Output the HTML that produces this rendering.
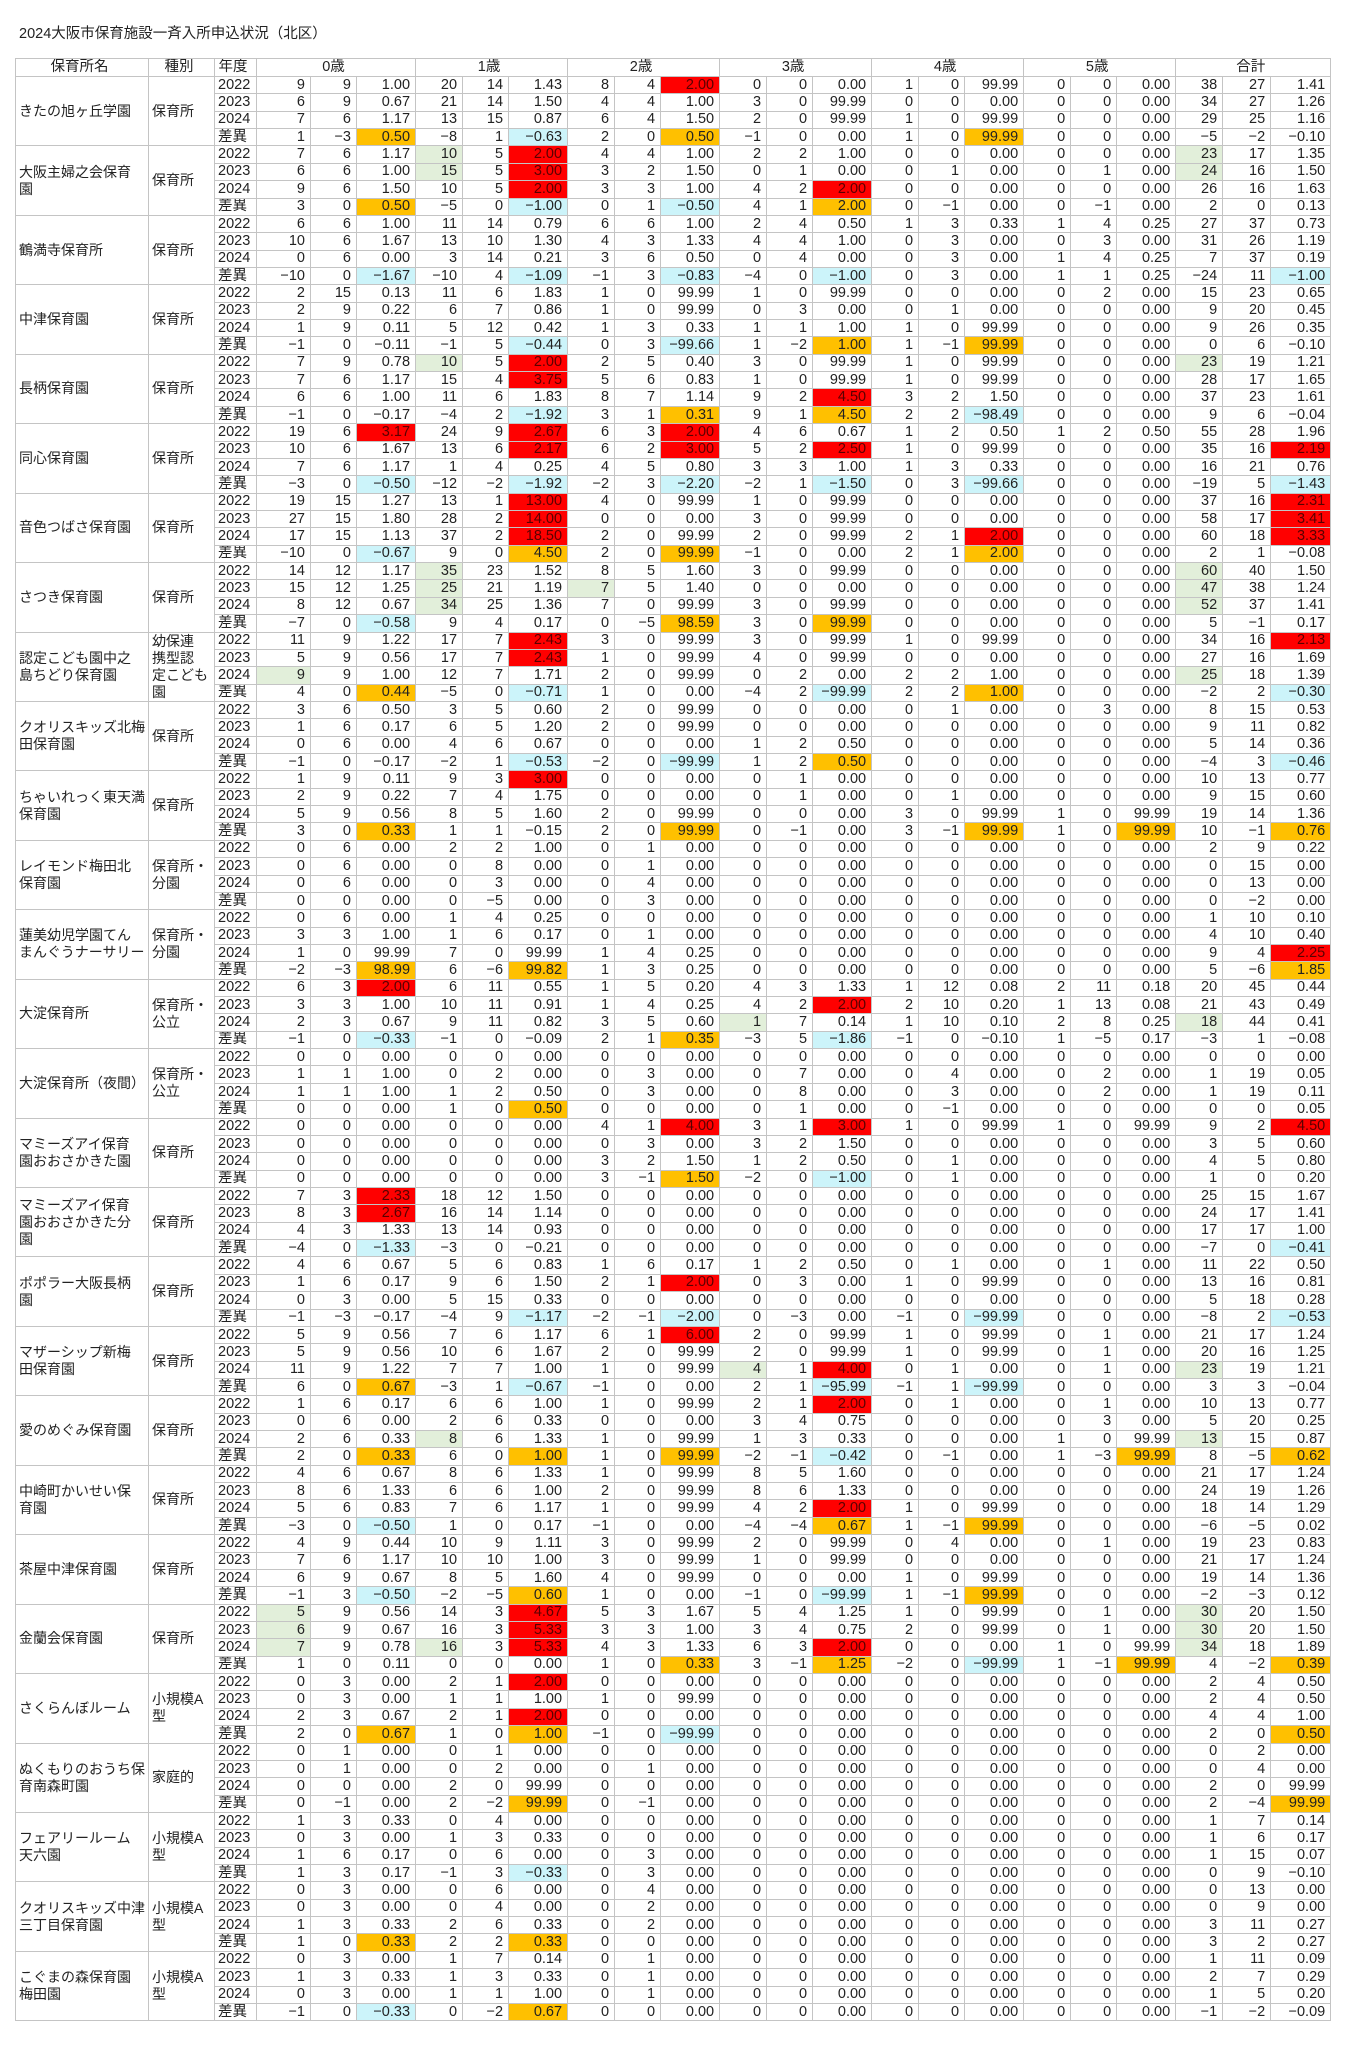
<!DOCTYPE html>
<html><head><meta charset="utf-8">
<style>
body{margin:0;width:1357px;height:2048px;background:#fff;position:relative;overflow:hidden;font-family:"Liberation Sans Narrow","Liberation Sans","Noto Sans CJK JP",sans-serif;color:#222}
.t{position:absolute;left:19px;top:22px;font-size:14.5px;font-family:"Liberation Sans","Noto Sans CJK JP",sans-serif}
table{position:absolute;left:15px;top:58px;border-collapse:collapse;table-layout:fixed;width:1315px;font-size:14.5px}
td{border:1px solid #c4c4c4;height:16.37px;padding:0 5px 0 0;text-align:right;line-height:15px;white-space:nowrap;overflow:hidden}
tr.h td{height:17px;text-align:center;font-family:"Liberation Sans","Noto Sans CJK JP",sans-serif;border-bottom:1px solid #c4c4c4;border-left-color:#c4c4c4}
tr.f td{border-top:1px solid #999}
td.n{text-align:left;padding-left:3px;padding-right:0;font-family:"Liberation Sans","Noto Sans CJK JP",sans-serif;line-height:17px;font-size:14px}
td.k{text-align:left;padding-left:3px;padding-right:0;font-family:"Liberation Sans","Noto Sans CJK JP",sans-serif;line-height:17px;font-size:14px}
td.y{text-align:left;padding-left:3px;font-family:"Liberation Sans Narrow","Liberation Sans","Noto Sans CJK JP",sans-serif}
.r{background:#ff0000;color:#5a0000}.o{background:#ffc000}.b{background:#ccf4fa}.g{background:#e2efda}
table{border:1px solid #888}
</style></head><body>
<div class="t">2024大阪市保育施設一斉入所申込状況（北区）</div>
<table>
<colgroup><col style="width:133px"><col style="width:66px"><col style="width:42px"><col style="width:54px"><col style="width:46px"><col style="width:59px"><col style="width:47px"><col style="width:46px"><col style="width:59px"><col style="width:47px"><col style="width:46px"><col style="width:59px"><col style="width:47px"><col style="width:46px"><col style="width:59px"><col style="width:47px"><col style="width:46px"><col style="width:59px"><col style="width:47px"><col style="width:46px"><col style="width:59px"><col style="width:47px"><col style="width:48px"><col style="width:60px"></colgroup>
<tr class="h"><td>保育所名<td>種別<td>年度<td colspan="3">0歳<td colspan="3">1歳<td colspan="3">2歳<td colspan="3">3歳<td colspan="3">4歳<td colspan="3">5歳<td colspan="3">合計
<tr class="f"><td rowspan="4" class="n">きたの旭ヶ丘学園<td rowspan="4" class="k">保育所<td class="y">2022<td>9<td>9<td>1.00<td>20<td>14<td>1.43<td>8<td>4<td class="r">2.00<td>0<td>0<td>0.00<td>1<td>0<td>99.99<td>0<td>0<td>0.00<td>38<td>27<td>1.41
<tr><td class="y">2023<td>6<td>9<td>0.67<td>21<td>14<td>1.50<td>4<td>4<td>1.00<td>3<td>0<td>99.99<td>0<td>0<td>0.00<td>0<td>0<td>0.00<td>34<td>27<td>1.26
<tr><td class="y">2024<td>7<td>6<td>1.17<td>13<td>15<td>0.87<td>6<td>4<td>1.50<td>2<td>0<td>99.99<td>1<td>0<td>99.99<td>0<td>0<td>0.00<td>29<td>25<td>1.16
<tr><td class="y">差異<td>1<td>−3<td class="o">0.50<td>−8<td>1<td class="b">−0.63<td>2<td>0<td class="o">0.50<td>−1<td>0<td>0.00<td>1<td>0<td class="o">99.99<td>0<td>0<td>0.00<td>−5<td>−2<td>−0.10
<tr class="f"><td rowspan="4" class="n">大阪主婦之会保育<br>園<td rowspan="4" class="k">保育所<td class="y">2022<td>7<td>6<td>1.17<td class="g">10<td>5<td class="r">2.00<td>4<td>4<td>1.00<td>2<td>2<td>1.00<td>0<td>0<td>0.00<td>0<td>0<td>0.00<td class="g">23<td>17<td>1.35
<tr><td class="y">2023<td>6<td>6<td>1.00<td class="g">15<td>5<td class="r">3.00<td>3<td>2<td>1.50<td>0<td>1<td>0.00<td>0<td>1<td>0.00<td>0<td>1<td>0.00<td class="g">24<td>16<td>1.50
<tr><td class="y">2024<td>9<td>6<td>1.50<td>10<td>5<td class="r">2.00<td>3<td>3<td>1.00<td>4<td>2<td class="r">2.00<td>0<td>0<td>0.00<td>0<td>0<td>0.00<td>26<td>16<td>1.63
<tr><td class="y">差異<td>3<td>0<td class="o">0.50<td>−5<td>0<td class="b">−1.00<td>0<td>1<td class="b">−0.50<td>4<td>1<td class="o">2.00<td>0<td>−1<td>0.00<td>0<td>−1<td>0.00<td>2<td>0<td>0.13
<tr class="f"><td rowspan="4" class="n">鶴満寺保育所<td rowspan="4" class="k">保育所<td class="y">2022<td>6<td>6<td>1.00<td>11<td>14<td>0.79<td>6<td>6<td>1.00<td>2<td>4<td>0.50<td>1<td>3<td>0.33<td>1<td>4<td>0.25<td>27<td>37<td>0.73
<tr><td class="y">2023<td>10<td>6<td>1.67<td>13<td>10<td>1.30<td>4<td>3<td>1.33<td>4<td>4<td>1.00<td>0<td>3<td>0.00<td>0<td>3<td>0.00<td>31<td>26<td>1.19
<tr><td class="y">2024<td>0<td>6<td>0.00<td>3<td>14<td>0.21<td>3<td>6<td>0.50<td>0<td>4<td>0.00<td>0<td>3<td>0.00<td>1<td>4<td>0.25<td>7<td>37<td>0.19
<tr><td class="y">差異<td>−10<td>0<td class="b">−1.67<td>−10<td>4<td class="b">−1.09<td>−1<td>3<td class="b">−0.83<td>−4<td>0<td class="b">−1.00<td>0<td>3<td>0.00<td>1<td>1<td>0.25<td>−24<td>11<td class="b">−1.00
<tr class="f"><td rowspan="4" class="n">中津保育園<td rowspan="4" class="k">保育所<td class="y">2022<td>2<td>15<td>0.13<td>11<td>6<td>1.83<td>1<td>0<td>99.99<td>1<td>0<td>99.99<td>0<td>0<td>0.00<td>0<td>2<td>0.00<td>15<td>23<td>0.65
<tr><td class="y">2023<td>2<td>9<td>0.22<td>6<td>7<td>0.86<td>1<td>0<td>99.99<td>0<td>3<td>0.00<td>0<td>1<td>0.00<td>0<td>0<td>0.00<td>9<td>20<td>0.45
<tr><td class="y">2024<td>1<td>9<td>0.11<td>5<td>12<td>0.42<td>1<td>3<td>0.33<td>1<td>1<td>1.00<td>1<td>0<td>99.99<td>0<td>0<td>0.00<td>9<td>26<td>0.35
<tr><td class="y">差異<td>−1<td>0<td>−0.11<td>−1<td>5<td class="b">−0.44<td>0<td>3<td class="b">−99.66<td>1<td>−2<td class="o">1.00<td>1<td>−1<td class="o">99.99<td>0<td>0<td>0.00<td>0<td>6<td>−0.10
<tr class="f"><td rowspan="4" class="n">長柄保育園<td rowspan="4" class="k">保育所<td class="y">2022<td>7<td>9<td>0.78<td class="g">10<td>5<td class="r">2.00<td>2<td>5<td>0.40<td>3<td>0<td>99.99<td>1<td>0<td>99.99<td>0<td>0<td>0.00<td class="g">23<td>19<td>1.21
<tr><td class="y">2023<td>7<td>6<td>1.17<td>15<td>4<td class="r">3.75<td>5<td>6<td>0.83<td>1<td>0<td>99.99<td>1<td>0<td>99.99<td>0<td>0<td>0.00<td>28<td>17<td>1.65
<tr><td class="y">2024<td>6<td>6<td>1.00<td>11<td>6<td>1.83<td>8<td>7<td>1.14<td>9<td>2<td class="r">4.50<td>3<td>2<td>1.50<td>0<td>0<td>0.00<td>37<td>23<td>1.61
<tr><td class="y">差異<td>−1<td>0<td>−0.17<td>−4<td>2<td class="b">−1.92<td>3<td>1<td class="o">0.31<td>9<td>1<td class="o">4.50<td>2<td>2<td class="b">−98.49<td>0<td>0<td>0.00<td>9<td>6<td>−0.04
<tr class="f"><td rowspan="4" class="n">同心保育園<td rowspan="4" class="k">保育所<td class="y">2022<td>19<td>6<td class="r">3.17<td>24<td>9<td class="r">2.67<td>6<td>3<td class="r">2.00<td>4<td>6<td>0.67<td>1<td>2<td>0.50<td>1<td>2<td>0.50<td>55<td>28<td>1.96
<tr><td class="y">2023<td>10<td>6<td>1.67<td>13<td>6<td class="r">2.17<td>6<td>2<td class="r">3.00<td>5<td>2<td class="r">2.50<td>1<td>0<td>99.99<td>0<td>0<td>0.00<td>35<td>16<td class="r">2.19
<tr><td class="y">2024<td>7<td>6<td>1.17<td>1<td>4<td>0.25<td>4<td>5<td>0.80<td>3<td>3<td>1.00<td>1<td>3<td>0.33<td>0<td>0<td>0.00<td>16<td>21<td>0.76
<tr><td class="y">差異<td>−3<td>0<td class="b">−0.50<td>−12<td>−2<td class="b">−1.92<td>−2<td>3<td class="b">−2.20<td>−2<td>1<td class="b">−1.50<td>0<td>3<td class="b">−99.66<td>0<td>0<td>0.00<td>−19<td>5<td class="b">−1.43
<tr class="f"><td rowspan="4" class="n">音色つばさ保育園<td rowspan="4" class="k">保育所<td class="y">2022<td>19<td>15<td>1.27<td>13<td>1<td class="r">13.00<td>4<td>0<td>99.99<td>1<td>0<td>99.99<td>0<td>0<td>0.00<td>0<td>0<td>0.00<td>37<td>16<td class="r">2.31
<tr><td class="y">2023<td>27<td>15<td>1.80<td>28<td>2<td class="r">14.00<td>0<td>0<td>0.00<td>3<td>0<td>99.99<td>0<td>0<td>0.00<td>0<td>0<td>0.00<td>58<td>17<td class="r">3.41
<tr><td class="y">2024<td>17<td>15<td>1.13<td>37<td>2<td class="r">18.50<td>2<td>0<td>99.99<td>2<td>0<td>99.99<td>2<td>1<td class="r">2.00<td>0<td>0<td>0.00<td>60<td>18<td class="r">3.33
<tr><td class="y">差異<td>−10<td>0<td class="b">−0.67<td>9<td>0<td class="o">4.50<td>2<td>0<td class="o">99.99<td>−1<td>0<td>0.00<td>2<td>1<td class="o">2.00<td>0<td>0<td>0.00<td>2<td>1<td>−0.08
<tr class="f"><td rowspan="4" class="n">さつき保育園<td rowspan="4" class="k">保育所<td class="y">2022<td>14<td>12<td>1.17<td class="g">35<td>23<td>1.52<td>8<td>5<td>1.60<td>3<td>0<td>99.99<td>0<td>0<td>0.00<td>0<td>0<td>0.00<td class="g">60<td>40<td>1.50
<tr><td class="y">2023<td>15<td>12<td>1.25<td class="g">25<td>21<td>1.19<td class="g">7<td>5<td>1.40<td>0<td>0<td>0.00<td>0<td>0<td>0.00<td>0<td>0<td>0.00<td class="g">47<td>38<td>1.24
<tr><td class="y">2024<td>8<td>12<td>0.67<td class="g">34<td>25<td>1.36<td>7<td>0<td>99.99<td>3<td>0<td>99.99<td>0<td>0<td>0.00<td>0<td>0<td>0.00<td class="g">52<td>37<td>1.41
<tr><td class="y">差異<td>−7<td>0<td class="b">−0.58<td>9<td>4<td>0.17<td>0<td>−5<td class="o">98.59<td>3<td>0<td class="o">99.99<td>0<td>0<td>0.00<td>0<td>0<td>0.00<td>5<td>−1<td>0.17
<tr class="f"><td rowspan="4" class="n">認定こども園中之<br>島ちどり保育園<td rowspan="4" class="k">幼保連<br>携型認<br>定こども<br>園<td class="y">2022<td>11<td>9<td>1.22<td>17<td>7<td class="r">2.43<td>3<td>0<td>99.99<td>3<td>0<td>99.99<td>1<td>0<td>99.99<td>0<td>0<td>0.00<td>34<td>16<td class="r">2.13
<tr><td class="y">2023<td>5<td>9<td>0.56<td>17<td>7<td class="r">2.43<td>1<td>0<td>99.99<td>4<td>0<td>99.99<td>0<td>0<td>0.00<td>0<td>0<td>0.00<td>27<td>16<td>1.69
<tr><td class="y">2024<td class="g">9<td>9<td>1.00<td>12<td>7<td>1.71<td>2<td>0<td>99.99<td>0<td>2<td>0.00<td>2<td>2<td>1.00<td>0<td>0<td>0.00<td class="g">25<td>18<td>1.39
<tr><td class="y">差異<td>4<td>0<td class="o">0.44<td>−5<td>0<td class="b">−0.71<td>1<td>0<td>0.00<td>−4<td>2<td class="b">−99.99<td>2<td>2<td class="o">1.00<td>0<td>0<td>0.00<td>−2<td>2<td class="b">−0.30
<tr class="f"><td rowspan="4" class="n">クオリスキッズ北梅<br>田保育園<td rowspan="4" class="k">保育所<td class="y">2022<td>3<td>6<td>0.50<td>3<td>5<td>0.60<td>2<td>0<td>99.99<td>0<td>0<td>0.00<td>0<td>1<td>0.00<td>0<td>3<td>0.00<td>8<td>15<td>0.53
<tr><td class="y">2023<td>1<td>6<td>0.17<td>6<td>5<td>1.20<td>2<td>0<td>99.99<td>0<td>0<td>0.00<td>0<td>0<td>0.00<td>0<td>0<td>0.00<td>9<td>11<td>0.82
<tr><td class="y">2024<td>0<td>6<td>0.00<td>4<td>6<td>0.67<td>0<td>0<td>0.00<td>1<td>2<td>0.50<td>0<td>0<td>0.00<td>0<td>0<td>0.00<td>5<td>14<td>0.36
<tr><td class="y">差異<td>−1<td>0<td>−0.17<td>−2<td>1<td class="b">−0.53<td>−2<td>0<td class="b">−99.99<td>1<td>2<td class="o">0.50<td>0<td>0<td>0.00<td>0<td>0<td>0.00<td>−4<td>3<td class="b">−0.46
<tr class="f"><td rowspan="4" class="n">ちゃいれっく東天満<br>保育園<td rowspan="4" class="k">保育所<td class="y">2022<td>1<td>9<td>0.11<td>9<td>3<td class="r">3.00<td>0<td>0<td>0.00<td>0<td>1<td>0.00<td>0<td>0<td>0.00<td>0<td>0<td>0.00<td>10<td>13<td>0.77
<tr><td class="y">2023<td>2<td>9<td>0.22<td>7<td>4<td>1.75<td>0<td>0<td>0.00<td>0<td>1<td>0.00<td>0<td>1<td>0.00<td>0<td>0<td>0.00<td>9<td>15<td>0.60
<tr><td class="y">2024<td>5<td>9<td>0.56<td>8<td>5<td>1.60<td>2<td>0<td>99.99<td>0<td>0<td>0.00<td>3<td>0<td>99.99<td>1<td>0<td>99.99<td>19<td>14<td>1.36
<tr><td class="y">差異<td>3<td>0<td class="o">0.33<td>1<td>1<td>−0.15<td>2<td>0<td class="o">99.99<td>0<td>−1<td>0.00<td>3<td>−1<td class="o">99.99<td>1<td>0<td class="o">99.99<td>10<td>−1<td class="o">0.76
<tr class="f"><td rowspan="4" class="n">レイモンド梅田北<br>保育園<td rowspan="4" class="k">保育所・<br>分園<td class="y">2022<td>0<td>6<td>0.00<td>2<td>2<td>1.00<td>0<td>1<td>0.00<td>0<td>0<td>0.00<td>0<td>0<td>0.00<td>0<td>0<td>0.00<td>2<td>9<td>0.22
<tr><td class="y">2023<td>0<td>6<td>0.00<td>0<td>8<td>0.00<td>0<td>1<td>0.00<td>0<td>0<td>0.00<td>0<td>0<td>0.00<td>0<td>0<td>0.00<td>0<td>15<td>0.00
<tr><td class="y">2024<td>0<td>6<td>0.00<td>0<td>3<td>0.00<td>0<td>4<td>0.00<td>0<td>0<td>0.00<td>0<td>0<td>0.00<td>0<td>0<td>0.00<td>0<td>13<td>0.00
<tr><td class="y">差異<td>0<td>0<td>0.00<td>0<td>−5<td>0.00<td>0<td>3<td>0.00<td>0<td>0<td>0.00<td>0<td>0<td>0.00<td>0<td>0<td>0.00<td>0<td>−2<td>0.00
<tr class="f"><td rowspan="4" class="n">蓮美幼児学園てん<br>まんぐうナーサリー<td rowspan="4" class="k">保育所・<br>分園<td class="y">2022<td>0<td>6<td>0.00<td>1<td>4<td>0.25<td>0<td>0<td>0.00<td>0<td>0<td>0.00<td>0<td>0<td>0.00<td>0<td>0<td>0.00<td>1<td>10<td>0.10
<tr><td class="y">2023<td>3<td>3<td>1.00<td>1<td>6<td>0.17<td>0<td>1<td>0.00<td>0<td>0<td>0.00<td>0<td>0<td>0.00<td>0<td>0<td>0.00<td>4<td>10<td>0.40
<tr><td class="y">2024<td>1<td>0<td>99.99<td>7<td>0<td>99.99<td>1<td>4<td>0.25<td>0<td>0<td>0.00<td>0<td>0<td>0.00<td>0<td>0<td>0.00<td>9<td>4<td class="r">2.25
<tr><td class="y">差異<td>−2<td>−3<td class="o">98.99<td>6<td>−6<td class="o">99.82<td>1<td>3<td>0.25<td>0<td>0<td>0.00<td>0<td>0<td>0.00<td>0<td>0<td>0.00<td>5<td>−6<td class="o">1.85
<tr class="f"><td rowspan="4" class="n">大淀保育所<td rowspan="4" class="k">保育所・<br>公立<td class="y">2022<td>6<td>3<td class="r">2.00<td>6<td>11<td>0.55<td>1<td>5<td>0.20<td>4<td>3<td>1.33<td>1<td>12<td>0.08<td>2<td>11<td>0.18<td>20<td>45<td>0.44
<tr><td class="y">2023<td>3<td>3<td>1.00<td>10<td>11<td>0.91<td>1<td>4<td>0.25<td>4<td>2<td class="r">2.00<td>2<td>10<td>0.20<td>1<td>13<td>0.08<td>21<td>43<td>0.49
<tr><td class="y">2024<td>2<td>3<td>0.67<td>9<td>11<td>0.82<td>3<td>5<td>0.60<td class="g">1<td>7<td>0.14<td>1<td>10<td>0.10<td>2<td>8<td>0.25<td class="g">18<td>44<td>0.41
<tr><td class="y">差異<td>−1<td>0<td class="b">−0.33<td>−1<td>0<td>−0.09<td>2<td>1<td class="o">0.35<td>−3<td>5<td class="b">−1.86<td>−1<td>0<td>−0.10<td>1<td>−5<td>0.17<td>−3<td>1<td>−0.08
<tr class="f"><td rowspan="4" class="n">大淀保育所（夜間）<td rowspan="4" class="k">保育所・<br>公立<td class="y">2022<td>0<td>0<td>0.00<td>0<td>0<td>0.00<td>0<td>0<td>0.00<td>0<td>0<td>0.00<td>0<td>0<td>0.00<td>0<td>0<td>0.00<td>0<td>0<td>0.00
<tr><td class="y">2023<td>1<td>1<td>1.00<td>0<td>2<td>0.00<td>0<td>3<td>0.00<td>0<td>7<td>0.00<td>0<td>4<td>0.00<td>0<td>2<td>0.00<td>1<td>19<td>0.05
<tr><td class="y">2024<td>1<td>1<td>1.00<td>1<td>2<td>0.50<td>0<td>3<td>0.00<td>0<td>8<td>0.00<td>0<td>3<td>0.00<td>0<td>2<td>0.00<td>1<td>19<td>0.11
<tr><td class="y">差異<td>0<td>0<td>0.00<td>1<td>0<td class="o">0.50<td>0<td>0<td>0.00<td>0<td>1<td>0.00<td>0<td>−1<td>0.00<td>0<td>0<td>0.00<td>0<td>0<td>0.05
<tr class="f"><td rowspan="4" class="n">マミーズアイ保育<br>園おおさかきた園<td rowspan="4" class="k">保育所<td class="y">2022<td>0<td>0<td>0.00<td>0<td>0<td>0.00<td>4<td>1<td class="r">4.00<td>3<td>1<td class="r">3.00<td>1<td>0<td>99.99<td>1<td>0<td>99.99<td>9<td>2<td class="r">4.50
<tr><td class="y">2023<td>0<td>0<td>0.00<td>0<td>0<td>0.00<td>0<td>3<td>0.00<td>3<td>2<td>1.50<td>0<td>0<td>0.00<td>0<td>0<td>0.00<td>3<td>5<td>0.60
<tr><td class="y">2024<td>0<td>0<td>0.00<td>0<td>0<td>0.00<td>3<td>2<td>1.50<td>1<td>2<td>0.50<td>0<td>1<td>0.00<td>0<td>0<td>0.00<td>4<td>5<td>0.80
<tr><td class="y">差異<td>0<td>0<td>0.00<td>0<td>0<td>0.00<td>3<td>−1<td class="o">1.50<td>−2<td>0<td class="b">−1.00<td>0<td>1<td>0.00<td>0<td>0<td>0.00<td>1<td>0<td>0.20
<tr class="f"><td rowspan="4" class="n">マミーズアイ保育<br>園おおさかきた分<br>園<td rowspan="4" class="k">保育所<td class="y">2022<td>7<td>3<td class="r">2.33<td>18<td>12<td>1.50<td>0<td>0<td>0.00<td>0<td>0<td>0.00<td>0<td>0<td>0.00<td>0<td>0<td>0.00<td>25<td>15<td>1.67
<tr><td class="y">2023<td>8<td>3<td class="r">2.67<td>16<td>14<td>1.14<td>0<td>0<td>0.00<td>0<td>0<td>0.00<td>0<td>0<td>0.00<td>0<td>0<td>0.00<td>24<td>17<td>1.41
<tr><td class="y">2024<td>4<td>3<td>1.33<td>13<td>14<td>0.93<td>0<td>0<td>0.00<td>0<td>0<td>0.00<td>0<td>0<td>0.00<td>0<td>0<td>0.00<td>17<td>17<td>1.00
<tr><td class="y">差異<td>−4<td>0<td class="b">−1.33<td>−3<td>0<td>−0.21<td>0<td>0<td>0.00<td>0<td>0<td>0.00<td>0<td>0<td>0.00<td>0<td>0<td>0.00<td>−7<td>0<td class="b">−0.41
<tr class="f"><td rowspan="4" class="n">ポポラー大阪長柄<br>園<td rowspan="4" class="k">保育所<td class="y">2022<td>4<td>6<td>0.67<td>5<td>6<td>0.83<td>1<td>6<td>0.17<td>1<td>2<td>0.50<td>0<td>1<td>0.00<td>0<td>1<td>0.00<td>11<td>22<td>0.50
<tr><td class="y">2023<td>1<td>6<td>0.17<td>9<td>6<td>1.50<td>2<td>1<td class="r">2.00<td>0<td>3<td>0.00<td>1<td>0<td>99.99<td>0<td>0<td>0.00<td>13<td>16<td>0.81
<tr><td class="y">2024<td>0<td>3<td>0.00<td>5<td>15<td>0.33<td>0<td>0<td>0.00<td>0<td>0<td>0.00<td>0<td>0<td>0.00<td>0<td>0<td>0.00<td>5<td>18<td>0.28
<tr><td class="y">差異<td>−1<td>−3<td>−0.17<td>−4<td>9<td class="b">−1.17<td>−2<td>−1<td class="b">−2.00<td>0<td>−3<td>0.00<td>−1<td>0<td class="b">−99.99<td>0<td>0<td>0.00<td>−8<td>2<td class="b">−0.53
<tr class="f"><td rowspan="4" class="n">マザーシップ新梅<br>田保育園<td rowspan="4" class="k">保育所<td class="y">2022<td>5<td>9<td>0.56<td>7<td>6<td>1.17<td>6<td>1<td class="r">6.00<td>2<td>0<td>99.99<td>1<td>0<td>99.99<td>0<td>1<td>0.00<td>21<td>17<td>1.24
<tr><td class="y">2023<td>5<td>9<td>0.56<td>10<td>6<td>1.67<td>2<td>0<td>99.99<td>2<td>0<td>99.99<td>1<td>0<td>99.99<td>0<td>1<td>0.00<td>20<td>16<td>1.25
<tr><td class="y">2024<td>11<td>9<td>1.22<td>7<td>7<td>1.00<td>1<td>0<td>99.99<td class="g">4<td>1<td class="r">4.00<td>0<td>1<td>0.00<td>0<td>1<td>0.00<td class="g">23<td>19<td>1.21
<tr><td class="y">差異<td>6<td>0<td class="o">0.67<td>−3<td>1<td class="b">−0.67<td>−1<td>0<td>0.00<td>2<td>1<td class="b">−95.99<td>−1<td>1<td class="b">−99.99<td>0<td>0<td>0.00<td>3<td>3<td>−0.04
<tr class="f"><td rowspan="4" class="n">愛のめぐみ保育園<td rowspan="4" class="k">保育所<td class="y">2022<td>1<td>6<td>0.17<td>6<td>6<td>1.00<td>1<td>0<td>99.99<td>2<td>1<td class="r">2.00<td>0<td>1<td>0.00<td>0<td>1<td>0.00<td>10<td>13<td>0.77
<tr><td class="y">2023<td>0<td>6<td>0.00<td>2<td>6<td>0.33<td>0<td>0<td>0.00<td>3<td>4<td>0.75<td>0<td>0<td>0.00<td>0<td>3<td>0.00<td>5<td>20<td>0.25
<tr><td class="y">2024<td>2<td>6<td>0.33<td class="g">8<td>6<td>1.33<td>1<td>0<td>99.99<td>1<td>3<td>0.33<td>0<td>0<td>0.00<td>1<td>0<td>99.99<td class="g">13<td>15<td>0.87
<tr><td class="y">差異<td>2<td>0<td class="o">0.33<td>6<td>0<td class="o">1.00<td>1<td>0<td class="o">99.99<td>−2<td>−1<td class="b">−0.42<td>0<td>−1<td>0.00<td>1<td>−3<td class="o">99.99<td>8<td>−5<td class="o">0.62
<tr class="f"><td rowspan="4" class="n">中崎町かいせい保<br>育園<td rowspan="4" class="k">保育所<td class="y">2022<td>4<td>6<td>0.67<td>8<td>6<td>1.33<td>1<td>0<td>99.99<td>8<td>5<td>1.60<td>0<td>0<td>0.00<td>0<td>0<td>0.00<td>21<td>17<td>1.24
<tr><td class="y">2023<td>8<td>6<td>1.33<td>6<td>6<td>1.00<td>2<td>0<td>99.99<td>8<td>6<td>1.33<td>0<td>0<td>0.00<td>0<td>0<td>0.00<td>24<td>19<td>1.26
<tr><td class="y">2024<td>5<td>6<td>0.83<td>7<td>6<td>1.17<td>1<td>0<td>99.99<td>4<td>2<td class="r">2.00<td>1<td>0<td>99.99<td>0<td>0<td>0.00<td>18<td>14<td>1.29
<tr><td class="y">差異<td>−3<td>0<td class="b">−0.50<td>1<td>0<td>0.17<td>−1<td>0<td>0.00<td>−4<td>−4<td class="o">0.67<td>1<td>−1<td class="o">99.99<td>0<td>0<td>0.00<td>−6<td>−5<td>0.02
<tr class="f"><td rowspan="4" class="n">茶屋中津保育園<td rowspan="4" class="k">保育所<td class="y">2022<td>4<td>9<td>0.44<td>10<td>9<td>1.11<td>3<td>0<td>99.99<td>2<td>0<td>99.99<td>0<td>4<td>0.00<td>0<td>1<td>0.00<td>19<td>23<td>0.83
<tr><td class="y">2023<td>7<td>6<td>1.17<td>10<td>10<td>1.00<td>3<td>0<td>99.99<td>1<td>0<td>99.99<td>0<td>0<td>0.00<td>0<td>0<td>0.00<td>21<td>17<td>1.24
<tr><td class="y">2024<td>6<td>9<td>0.67<td>8<td>5<td>1.60<td>4<td>0<td>99.99<td>0<td>0<td>0.00<td>1<td>0<td>99.99<td>0<td>0<td>0.00<td>19<td>14<td>1.36
<tr><td class="y">差異<td>−1<td>3<td class="b">−0.50<td>−2<td>−5<td class="o">0.60<td>1<td>0<td>0.00<td>−1<td>0<td class="b">−99.99<td>1<td>−1<td class="o">99.99<td>0<td>0<td>0.00<td>−2<td>−3<td>0.12
<tr class="f"><td rowspan="4" class="n">金蘭会保育園<td rowspan="4" class="k">保育所<td class="y">2022<td class="g">5<td>9<td>0.56<td>14<td>3<td class="r">4.67<td>5<td>3<td>1.67<td>5<td>4<td>1.25<td>1<td>0<td>99.99<td>0<td>1<td>0.00<td class="g">30<td>20<td>1.50
<tr><td class="y">2023<td class="g">6<td>9<td>0.67<td>16<td>3<td class="r">5.33<td>3<td>3<td>1.00<td>3<td>4<td>0.75<td>2<td>0<td>99.99<td>0<td>1<td>0.00<td class="g">30<td>20<td>1.50
<tr><td class="y">2024<td class="g">7<td>9<td>0.78<td class="g">16<td>3<td class="r">5.33<td>4<td>3<td>1.33<td>6<td>3<td class="r">2.00<td>0<td>0<td>0.00<td>1<td>0<td>99.99<td class="g">34<td>18<td>1.89
<tr><td class="y">差異<td>1<td>0<td>0.11<td>0<td>0<td>0.00<td>1<td>0<td class="o">0.33<td>3<td>−1<td class="o">1.25<td>−2<td>0<td class="b">−99.99<td>1<td>−1<td class="o">99.99<td>4<td>−2<td class="o">0.39
<tr class="f"><td rowspan="4" class="n">さくらんぼルーム<td rowspan="4" class="k">小規模A<br>型<td class="y">2022<td>0<td>3<td>0.00<td>2<td>1<td class="r">2.00<td>0<td>0<td>0.00<td>0<td>0<td>0.00<td>0<td>0<td>0.00<td>0<td>0<td>0.00<td>2<td>4<td>0.50
<tr><td class="y">2023<td>0<td>3<td>0.00<td>1<td>1<td>1.00<td>1<td>0<td>99.99<td>0<td>0<td>0.00<td>0<td>0<td>0.00<td>0<td>0<td>0.00<td>2<td>4<td>0.50
<tr><td class="y">2024<td>2<td>3<td>0.67<td>2<td>1<td class="r">2.00<td>0<td>0<td>0.00<td>0<td>0<td>0.00<td>0<td>0<td>0.00<td>0<td>0<td>0.00<td>4<td>4<td>1.00
<tr><td class="y">差異<td>2<td>0<td class="o">0.67<td>1<td>0<td class="o">1.00<td>−1<td>0<td class="b">−99.99<td>0<td>0<td>0.00<td>0<td>0<td>0.00<td>0<td>0<td>0.00<td>2<td>0<td class="o">0.50
<tr class="f"><td rowspan="4" class="n">ぬくもりのおうち保<br>育南森町園<td rowspan="4" class="k">家庭的<td class="y">2022<td>0<td>1<td>0.00<td>0<td>1<td>0.00<td>0<td>0<td>0.00<td>0<td>0<td>0.00<td>0<td>0<td>0.00<td>0<td>0<td>0.00<td>0<td>2<td>0.00
<tr><td class="y">2023<td>0<td>1<td>0.00<td>0<td>2<td>0.00<td>0<td>1<td>0.00<td>0<td>0<td>0.00<td>0<td>0<td>0.00<td>0<td>0<td>0.00<td>0<td>4<td>0.00
<tr><td class="y">2024<td>0<td>0<td>0.00<td>2<td>0<td>99.99<td>0<td>0<td>0.00<td>0<td>0<td>0.00<td>0<td>0<td>0.00<td>0<td>0<td>0.00<td>2<td>0<td>99.99
<tr><td class="y">差異<td>0<td>−1<td>0.00<td>2<td>−2<td class="o">99.99<td>0<td>−1<td>0.00<td>0<td>0<td>0.00<td>0<td>0<td>0.00<td>0<td>0<td>0.00<td>2<td>−4<td class="o">99.99
<tr class="f"><td rowspan="4" class="n">フェアリールーム<br>天六園<td rowspan="4" class="k">小規模A<br>型<td class="y">2022<td>1<td>3<td>0.33<td>0<td>4<td>0.00<td>0<td>0<td>0.00<td>0<td>0<td>0.00<td>0<td>0<td>0.00<td>0<td>0<td>0.00<td>1<td>7<td>0.14
<tr><td class="y">2023<td>0<td>3<td>0.00<td>1<td>3<td>0.33<td>0<td>0<td>0.00<td>0<td>0<td>0.00<td>0<td>0<td>0.00<td>0<td>0<td>0.00<td>1<td>6<td>0.17
<tr><td class="y">2024<td>1<td>6<td>0.17<td>0<td>6<td>0.00<td>0<td>3<td>0.00<td>0<td>0<td>0.00<td>0<td>0<td>0.00<td>0<td>0<td>0.00<td>1<td>15<td>0.07
<tr><td class="y">差異<td>1<td>3<td>0.17<td>−1<td>3<td class="b">−0.33<td>0<td>3<td>0.00<td>0<td>0<td>0.00<td>0<td>0<td>0.00<td>0<td>0<td>0.00<td>0<td>9<td>−0.10
<tr class="f"><td rowspan="4" class="n">クオリスキッズ中津<br>三丁目保育園<td rowspan="4" class="k">小規模A<br>型<td class="y">2022<td>0<td>3<td>0.00<td>0<td>6<td>0.00<td>0<td>4<td>0.00<td>0<td>0<td>0.00<td>0<td>0<td>0.00<td>0<td>0<td>0.00<td>0<td>13<td>0.00
<tr><td class="y">2023<td>0<td>3<td>0.00<td>0<td>4<td>0.00<td>0<td>2<td>0.00<td>0<td>0<td>0.00<td>0<td>0<td>0.00<td>0<td>0<td>0.00<td>0<td>9<td>0.00
<tr><td class="y">2024<td>1<td>3<td>0.33<td>2<td>6<td>0.33<td>0<td>2<td>0.00<td>0<td>0<td>0.00<td>0<td>0<td>0.00<td>0<td>0<td>0.00<td>3<td>11<td>0.27
<tr><td class="y">差異<td>1<td>0<td class="o">0.33<td>2<td>2<td class="o">0.33<td>0<td>0<td>0.00<td>0<td>0<td>0.00<td>0<td>0<td>0.00<td>0<td>0<td>0.00<td>3<td>2<td>0.27
<tr class="f"><td rowspan="4" class="n">こぐまの森保育園<br>梅田園<td rowspan="4" class="k">小規模A<br>型<td class="y">2022<td>0<td>3<td>0.00<td>1<td>7<td>0.14<td>0<td>1<td>0.00<td>0<td>0<td>0.00<td>0<td>0<td>0.00<td>0<td>0<td>0.00<td>1<td>11<td>0.09
<tr><td class="y">2023<td>1<td>3<td>0.33<td>1<td>3<td>0.33<td>0<td>1<td>0.00<td>0<td>0<td>0.00<td>0<td>0<td>0.00<td>0<td>0<td>0.00<td>2<td>7<td>0.29
<tr><td class="y">2024<td>0<td>3<td>0.00<td>1<td>1<td>1.00<td>0<td>1<td>0.00<td>0<td>0<td>0.00<td>0<td>0<td>0.00<td>0<td>0<td>0.00<td>1<td>5<td>0.20
<tr><td class="y">差異<td>−1<td>0<td class="b">−0.33<td>0<td>−2<td class="o">0.67<td>0<td>0<td>0.00<td>0<td>0<td>0.00<td>0<td>0<td>0.00<td>0<td>0<td>0.00<td>−1<td>−2<td>−0.09
</table>
</body></html>
